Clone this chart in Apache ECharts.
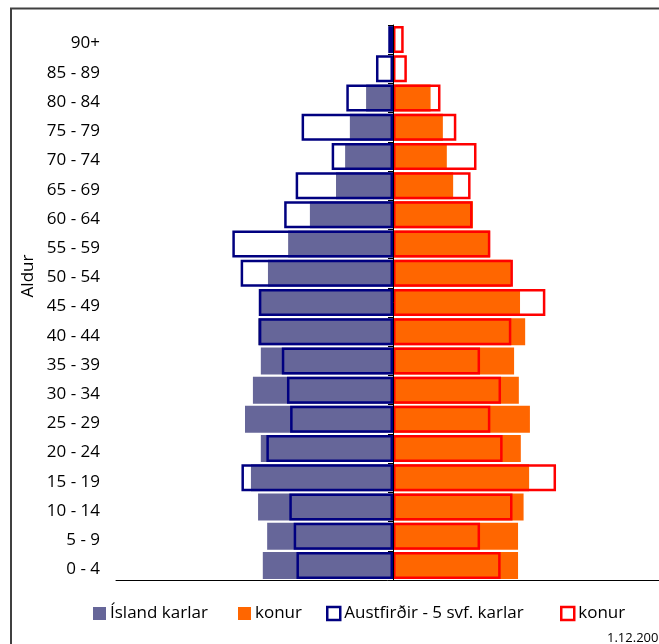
<!DOCTYPE html>
<html>
<head>
<meta charset="utf-8">
<script src="https://cdn.jsdelivr.net/npm/echarts@6/dist/echarts.min.js"></script>
<style>html,body{margin:0;padding:0;background:#fff;}#c{width:659px;height:644px;}</style>
</head>
<body>
<div id="c"></div>
<script>
// Age groups (bottom to top)
const categories = ['0 - 4','5 - 9','10 - 14','15 - 19','20 - 24','25 - 29','30 - 34','35 - 39','40 - 44','45 - 49','50 - 54','55 - 59','60 - 64','65 - 69','70 - 74','75 - 79','80 - 84','85 - 89','90+'];
// Share of population (%)
const islandKarlar = [3.29,3.18,3.41,3.59,3.34,3.74,3.54,3.34,3.41,3.39,3.16,2.65,2.10,1.44,1.21,1.09,0.68,0,0];
const islandKonur  = [3.16,3.16,3.30,3.44,3.23,3.46,3.18,3.06,3.34,3.21,2.98,2.45,2.02,1.52,1.36,1.26,0.95,0,0];
const austKarlar   = [2.44,2.51,2.62,3.83,3.20,2.60,2.68,2.81,3.39,3.39,3.85,4.06,2.75,2.46,1.55,2.31,1.18,0.43,0.12];
const austKonur    = [2.72,2.20,3.02,4.12,2.77,2.46,2.73,2.20,2.99,3.85,3.03,2.46,2.01,1.96,2.11,1.60,1.20,0.35,0.27];
const legendNames = ['Ísland karlar','konur','Austfirðir - 5 svf. karlar','konur '];
const yAxisName = 'Aldur';
const dateText = '1.12.2007';

const FONT = '"Open Sans", sans-serif';
const chart = echarts.init(document.getElementById('c'), null, {renderer:'canvas'});
const neg = a => a.map(v => -v);
const legendBase = {
  orient:'horizontal', top:605, itemWidth:13, itemHeight:13, itemGap:0,
  textStyle:{fontFamily:FONT, fontSize:17, color:'#000', padding:[0,0,0,-1]},
  selectedMode:false, padding:0
};
chart.setOption({
  animation:false,
  backgroundColor:'#fff',
  grid:{left:116, top:25, width:554, height:555, containLabel:false, outerBoundsMode:'none'},
  xAxis:{type:'value', min:-7, max:7, position:'bottom',
    axisLine:{show:true, onZero:false, lineStyle:{color:'#000', width:1}},
    axisTick:{show:false}, axisLabel:{show:false}, splitLine:{show:false}},
  yAxis:[
    {type:'category', data:categories, position:'left',
     axisLine:{show:false, onZero:false}, axisTick:{show:false},
     axisLabel:{margin:16, fontFamily:FONT, fontSize:17, color:'#000', verticalAlign:'top', lineHeight:8}},
    {type:'category', data:categories, position:'left', z:10,
     axisLine:{show:true, onZero:true, lineStyle:{color:'#000', width:1}},
     axisTick:{show:true, length:5, lineStyle:{color:'#000'}},
     axisLabel:{show:false}}
  ],
  legend:[
    Object.assign({}, legendBase, {left:93, data:[{name:legendNames[0], icon:'rect', itemStyle:{color:'#666699', borderWidth:0}}]}),
    Object.assign({}, legendBase, {left:238, data:[{name:legendNames[1], icon:'rect', itemStyle:{color:'#FF6600', borderWidth:0}}]}),
    Object.assign({}, legendBase, {left:326, data:[{name:legendNames[2], icon:'rect', itemStyle:{color:'#fff', borderColor:'#000080', borderWidth:2.5}}]}),
    Object.assign({}, legendBase, {left:560, data:[{name:legendNames[3], icon:'rect', itemStyle:{color:'#fff', borderColor:'#FF0000', borderWidth:2.5}}]})
  ],
  series:[
    {name:legendNames[0], type:'bar', data:neg(islandKarlar), barWidth:27, barGap:'-100%',
     itemStyle:{color:'#666699'}, z:2},
    {name:legendNames[1], type:'bar', data:islandKonur, barWidth:27, barGap:'-100%',
     itemStyle:{color:'#FF6600'}, z:2},
    {name:legendNames[2], type:'bar', data:neg(austKarlar), barWidth:27, barGap:'-100%',
     itemStyle:{color:'rgba(0,0,0,0)', borderColor:'#000080', borderWidth:2.5}, z:3},
    {name:legendNames[3], type:'bar', data:austKonur, barWidth:27, barGap:'-100%',
     itemStyle:{color:'rgba(0,0,0,0)', borderColor:'#FF0000', borderWidth:2.5}, z:3}
  ],
  graphic:[
    {type:'rect', shape:{x:11, y:8.5, width:800, height:800}, style:{fill:null, stroke:'#404040', lineWidth:2}, silent:true, z:-1},
    {type:'text', x:28, y:276, rotation:Math.PI/2, style:{text:yAxisName, font:'17px "Open Sans", sans-serif', fill:'#000', textAlign:'center', textVerticalAlign:'middle'}},
    {type:'text', x:607, y:638, style:{text:dateText, font:'13px "Open Sans", sans-serif', fill:'#000', textAlign:'left', textVerticalAlign:'middle'}}
  ]
});
</script>
</body>
</html>
